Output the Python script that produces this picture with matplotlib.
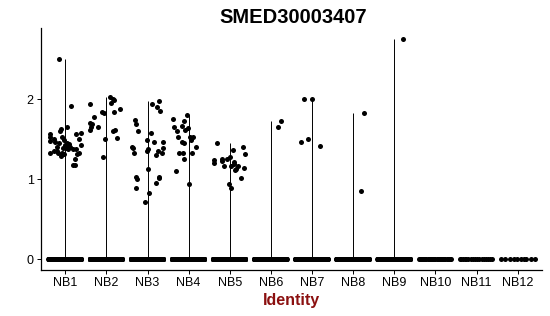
import matplotlib
matplotlib.use("Agg")
import matplotlib.pyplot as plt
import numpy as np

plt.rcParams['font.family'] = ['Liberation Sans', 'DejaVu Sans']

title = "SMED30003407"
categories = ["NB1", "NB2", "NB3", "NB4", "NB5", "NB6", "NB7", "NB8", "NB9", "NB10", "NB11", "NB12"]

# non-zero expression values with their jitter offsets
nb1_vals = [2.50, 1.92, 1.33, 1.57, 1.53, 1.48, 1.50, 1.47, 1.40, 1.36, 1.45, 1.60, 1.63, 1.53, 1.29,
            1.33, 1.39, 1.49, 1.43, 1.45, 1.65, 1.42, 1.44, 1.41, 1.38, 1.18, 1.18, 1.57, 1.38, 1.32,
            1.33, 1.50, 1.58, 1.43, 1.26, 1.33, 1.35, 1.32, 1.39, 1.38]
nb1_off = [-0.15, 0.15, -0.38, -0.36, -0.36, -0.36, -0.27, -0.25, -0.21, -0.20, -0.15, -0.13, -0.11, -0.09, -0.11,
           -0.08, -0.05, -0.03, 0.00, 0.03, 0.05, 0.06, 0.10, 0.11, 0.18, 0.19, 0.24, 0.25, 0.27, 0.28,
           0.34, 0.34, 0.38, 0.38, 0.23, -0.18, -0.27, -0.02, 0.02, 0.07]
nb2_vals = [1.94, 1.78, 1.70, 1.69, 1.62, 1.66, 1.84, 1.83, 1.50, 1.28, 2.03, 2.01, 1.99, 1.96, 1.84,
            1.88, 1.60, 1.62, 1.52, 1.66]
nb2_off = [-0.41, -0.31, -0.41, -0.35, -0.39, -0.20, -0.10, -0.05, -0.04, -0.08, 0.08, 0.15, 0.18, 0.12, 0.18,
           0.32, 0.15, 0.21, 0.26, -0.37]
nb3_vals = [1.74, 1.69, 1.60, 1.41, 1.39, 1.33, 1.03, 1.01, 0.89, 0.72, 0.83, 1.49, 1.38, 1.35, 1.13,
            1.58, 1.94, 1.47, 1.91, 1.98, 1.85, 1.35, 1.33, 1.39, 1.47, 0.96, 1.02, 1.03, 1.30]
nb3_off = [-0.30, -0.29, -0.24, -0.38, -0.36, -0.32, -0.28, -0.26, -0.28, -0.06, 0.04, -0.02, 0.00, -0.02, 0.02,
           0.08, 0.11, 0.15, 0.24, 0.29, 0.30, 0.25, 0.35, 0.37, 0.37, 0.21, 0.27, 0.29, 0.21]
nb4_vals = [1.76, 1.66, 1.60, 1.53, 1.10, 1.33, 1.33, 1.67, 1.73, 1.62, 1.47, 1.26, 1.46, 1.80, 1.64,
            1.53, 1.49, 1.53, 1.33, 1.41, 0.94]
nb4_off = [-0.37, -0.36, -0.29, -0.25, -0.32, -0.23, -0.13, -0.15, -0.11, -0.09, -0.17, -0.11, -0.11, -0.05, -0.02,
           0.03, 0.06, 0.11, 0.07, 0.18, 0.02]
nb5_vals = [1.46, 1.24, 1.20, 1.26, 1.23, 1.26, 1.28, 1.37, 1.17, 1.17, 1.22, 1.19, 1.13, 1.17, 1.41,
            1.32, 1.14, 1.02, 0.94, 0.89, 1.12]
nb5_off = [-0.31, -0.39, -0.39, -0.19, -0.19, -0.08, 0.00, 0.08, -0.13, 0.04, 0.11, 0.11, 0.15, 0.20, 0.31,
           0.38, 0.34, 0.27, -0.03, 0.04, 0.13]
nb6_vals = [1.66, 1.73]
nb6_off = [0.17, 0.25]
nb7_vals = [2.01, 2.00, 1.47, 1.51, 1.42]
nb7_off = [-0.19, 0.00, -0.26, -0.10, 0.20]
nb8_vals = [1.83, 0.85]
nb8_off = [0.27, 0.19]
nb9_vals = [2.75]
nb9_off = [0.22]
nb10_vals, nb10_off = [], []
nb11_vals, nb11_off = [], []
nb12_vals, nb12_off = [], []

# cells with zero expression
zero_counts = [300, 300, 300, 300, 300, 300, 300, 300, 300, 30, 17, 10]
nb11_zero_off = [-0.41, -0.37, -0.33, -0.29, -0.25, -0.21, -0.13, -0.08, -0.03, 0.02, 0.07, 0.12,
                 0.17, 0.22, 0.27, 0.32, 0.37]
nb12_zero_off = [-0.41, -0.30, -0.19, -0.09, -0.02, 0.07, 0.15, 0.20, 0.32, 0.41]

vals = [nb1_vals, nb2_vals, nb3_vals, nb4_vals, nb5_vals, nb6_vals, nb7_vals, nb8_vals, nb9_vals,
        nb10_vals, nb11_vals, nb12_vals]
offs = [nb1_off, nb2_off, nb3_off, nb4_off, nb5_off, nb6_off, nb7_off, nb8_off, nb9_off,
        nb10_off, nb11_off, nb12_off]

fig = plt.figure(figsize=(5.5, 3.16), dpi=100)
ax = fig.add_axes([0.0738, 0.1446, 0.9124, 0.7658])

pos = np.arange(1, len(categories) + 1)
for i, (p, v, o) in enumerate(zip(pos, vals, offs)):
    vmax = max(v) if len(v) else 0.0
    if vmax > 0:
        ax.vlines(p, 0, vmax, color='black', lw=0.7, zorder=1)
    # zero points
    if i == 10:
        zo = np.array(nb11_zero_off)
    elif i == 11:
        zo = np.array(nb12_zero_off)
    else:
        zo = np.linspace(-0.41, 0.38, zero_counts[i])
    ax.scatter(p + zo, np.zeros(len(zo)), s=13, color='black', lw=0, zorder=3)
    if len(v):
        ax.scatter(p + np.array(o), v, s=13, color='black', lw=0, zorder=3)

allmax = max(max(v) for v in vals if len(v))
ax.set_xlim(0.4, len(categories) + 0.6)
ax.set_ylim(-0.05 * allmax, allmax * 1.05)
ax.set_xticks(pos)
ax.set_xticklabels(categories, fontsize=9, color='black')
ax.set_yticks([0, 1, 2])
ax.set_yticklabels(['0', '1', '2'], fontsize=9, color='black')
ax.tick_params(length=3, width=0.7, color='black', pad=2)
for s in ['top', 'right']:
    ax.spines[s].set_visible(False)
for s in ['left', 'bottom']:
    ax.spines[s].set_linewidth(0.9)
    ax.spines[s].set_color('black')

ax.set_xlabel("Identity", fontsize=11.5, fontweight='bold', color='#8B1010', labelpad=3)
fig.text(0.533, 0.945, title, fontsize=14.5, fontweight='bold', ha='center', va='center')

fig.savefig("out.png", dpi=100)
